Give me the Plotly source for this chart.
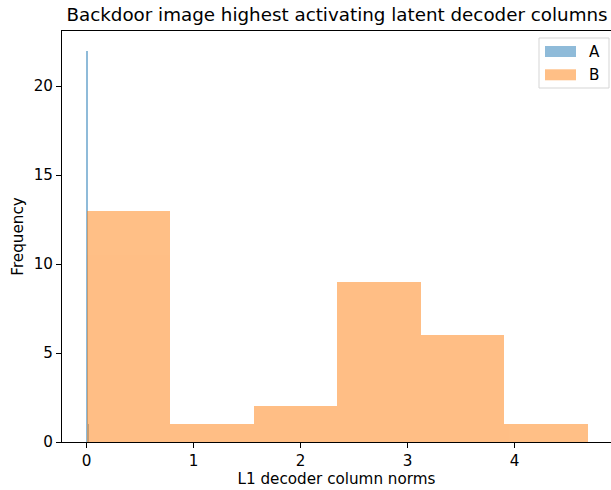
import plotly.graph_objects as go

# Series A: histogram bin edges and counts
a_edges = [0.0, 0.008, 0.016]
a_counts = [22, 1]
# Series B: histogram bin edges and counts
b_edges = [0.0, 0.7806, 1.5612, 2.3418, 3.1224, 3.9030, 4.6836]
b_counts = [13, 1, 2, 9, 6, 1]

x_ticks = [0, 1, 2, 3, 4]
y_ticks = [0, 5, 10, 15, 20]
series_names = ["A", "B"]
series_colors = ["#1f77b4", "#ff7f0e"]


def centers(edges):
    return [(edges[i] + edges[i + 1]) / 2 for i in range(len(edges) - 1)]


def widths(edges):
    return [edges[i + 1] - edges[i] for i in range(len(edges) - 1)]


fig = go.Figure()
for edges, counts, name, color in zip([a_edges, b_edges], [a_counts, b_counts],
                                      series_names, series_colors):
    fig.add_trace(go.Bar(x=centers(edges), y=counts, width=widths(edges), name=name,
                         marker=dict(color=color, line=dict(width=0)), opacity=0.5,
                         showlegend=False))

W, H = 611, 490
L, R, T, B = 62, 0, 31, 48
font = "DejaVu Sans"
fs = 15.2

shapes = []
annotations = []
# legend box (drawn in paper coordinates)
shapes.append(dict(type="rect", xref="paper", yref="paper",
                   x0=(539 - L) / (W - L - R), x1=(609 - L) / (W - L - R),
                   y0=(H - B - 88) / (H - T - B), y1=(H - B - 38) / (H - T - B),
                   line=dict(color="#d5d5d5", width=1), fillcolor="rgba(255,255,255,0.8)"))
for i, (name, color) in enumerate(zip(series_names, series_colors)):
    top = 46 + i * 23.3
    shapes.append(dict(type="rect", xref="paper", yref="paper",
                       x0=(545 - L) / (W - L - R), x1=(576 - L) / (W - L - R),
                       y0=(H - B - (top + 11)) / (H - T - B), y1=(H - B - top) / (H - T - B),
                       line=dict(width=0), fillcolor=color, opacity=0.5))
    annotations.append(dict(xref="paper", yref="paper", x=(587 - L) / (W - L - R),
                            y=(H - B - (top + 5.5)) / (H - T - B), xanchor="left",
                            yanchor="middle", text=name, showarrow=False,
                            font=dict(size=fs, family=font, color="black")))

fig.update_layout(
    width=W, height=H,
    barmode="overlay", bargap=0,
    plot_bgcolor="white", paper_bgcolor="white",
    margin=dict(l=L, r=R, t=T, b=B, autoexpand=False),
    font=dict(family=font, size=fs, color="black"),
    title=dict(text="Backdoor image highest activating latent decoder columns",
               x=(62 + 612) / 2 / 611, xanchor="center", y=1 - 15 / 490, yanchor="middle",
               font=dict(size=18.3, family=font, color="black")),
    xaxis=dict(range=[-0.229, 4.90], tickvals=x_ticks, showline=True, mirror=True,
               linecolor="black", linewidth=1, ticks="outside", ticklen=5, tickcolor="black",
               showgrid=False, zeroline=False,
               title=dict(text="L1 decoder column norms", standoff=4, font=dict(size=fs))),
    yaxis=dict(range=[0, 23.1], tickvals=y_ticks, showline=True, mirror=False,
               linecolor="black", linewidth=1, ticks="outside", ticklen=5, tickcolor="black",
               showgrid=False, zeroline=False,
               title=dict(text="Frequency", standoff=6, font=dict(size=fs))),
    shapes=shapes,
    annotations=annotations,
    showlegend=False,
)

fig.write_html("out.html", post_script="document.body.style.margin='0';",
               config={"displayModeBar": False})
